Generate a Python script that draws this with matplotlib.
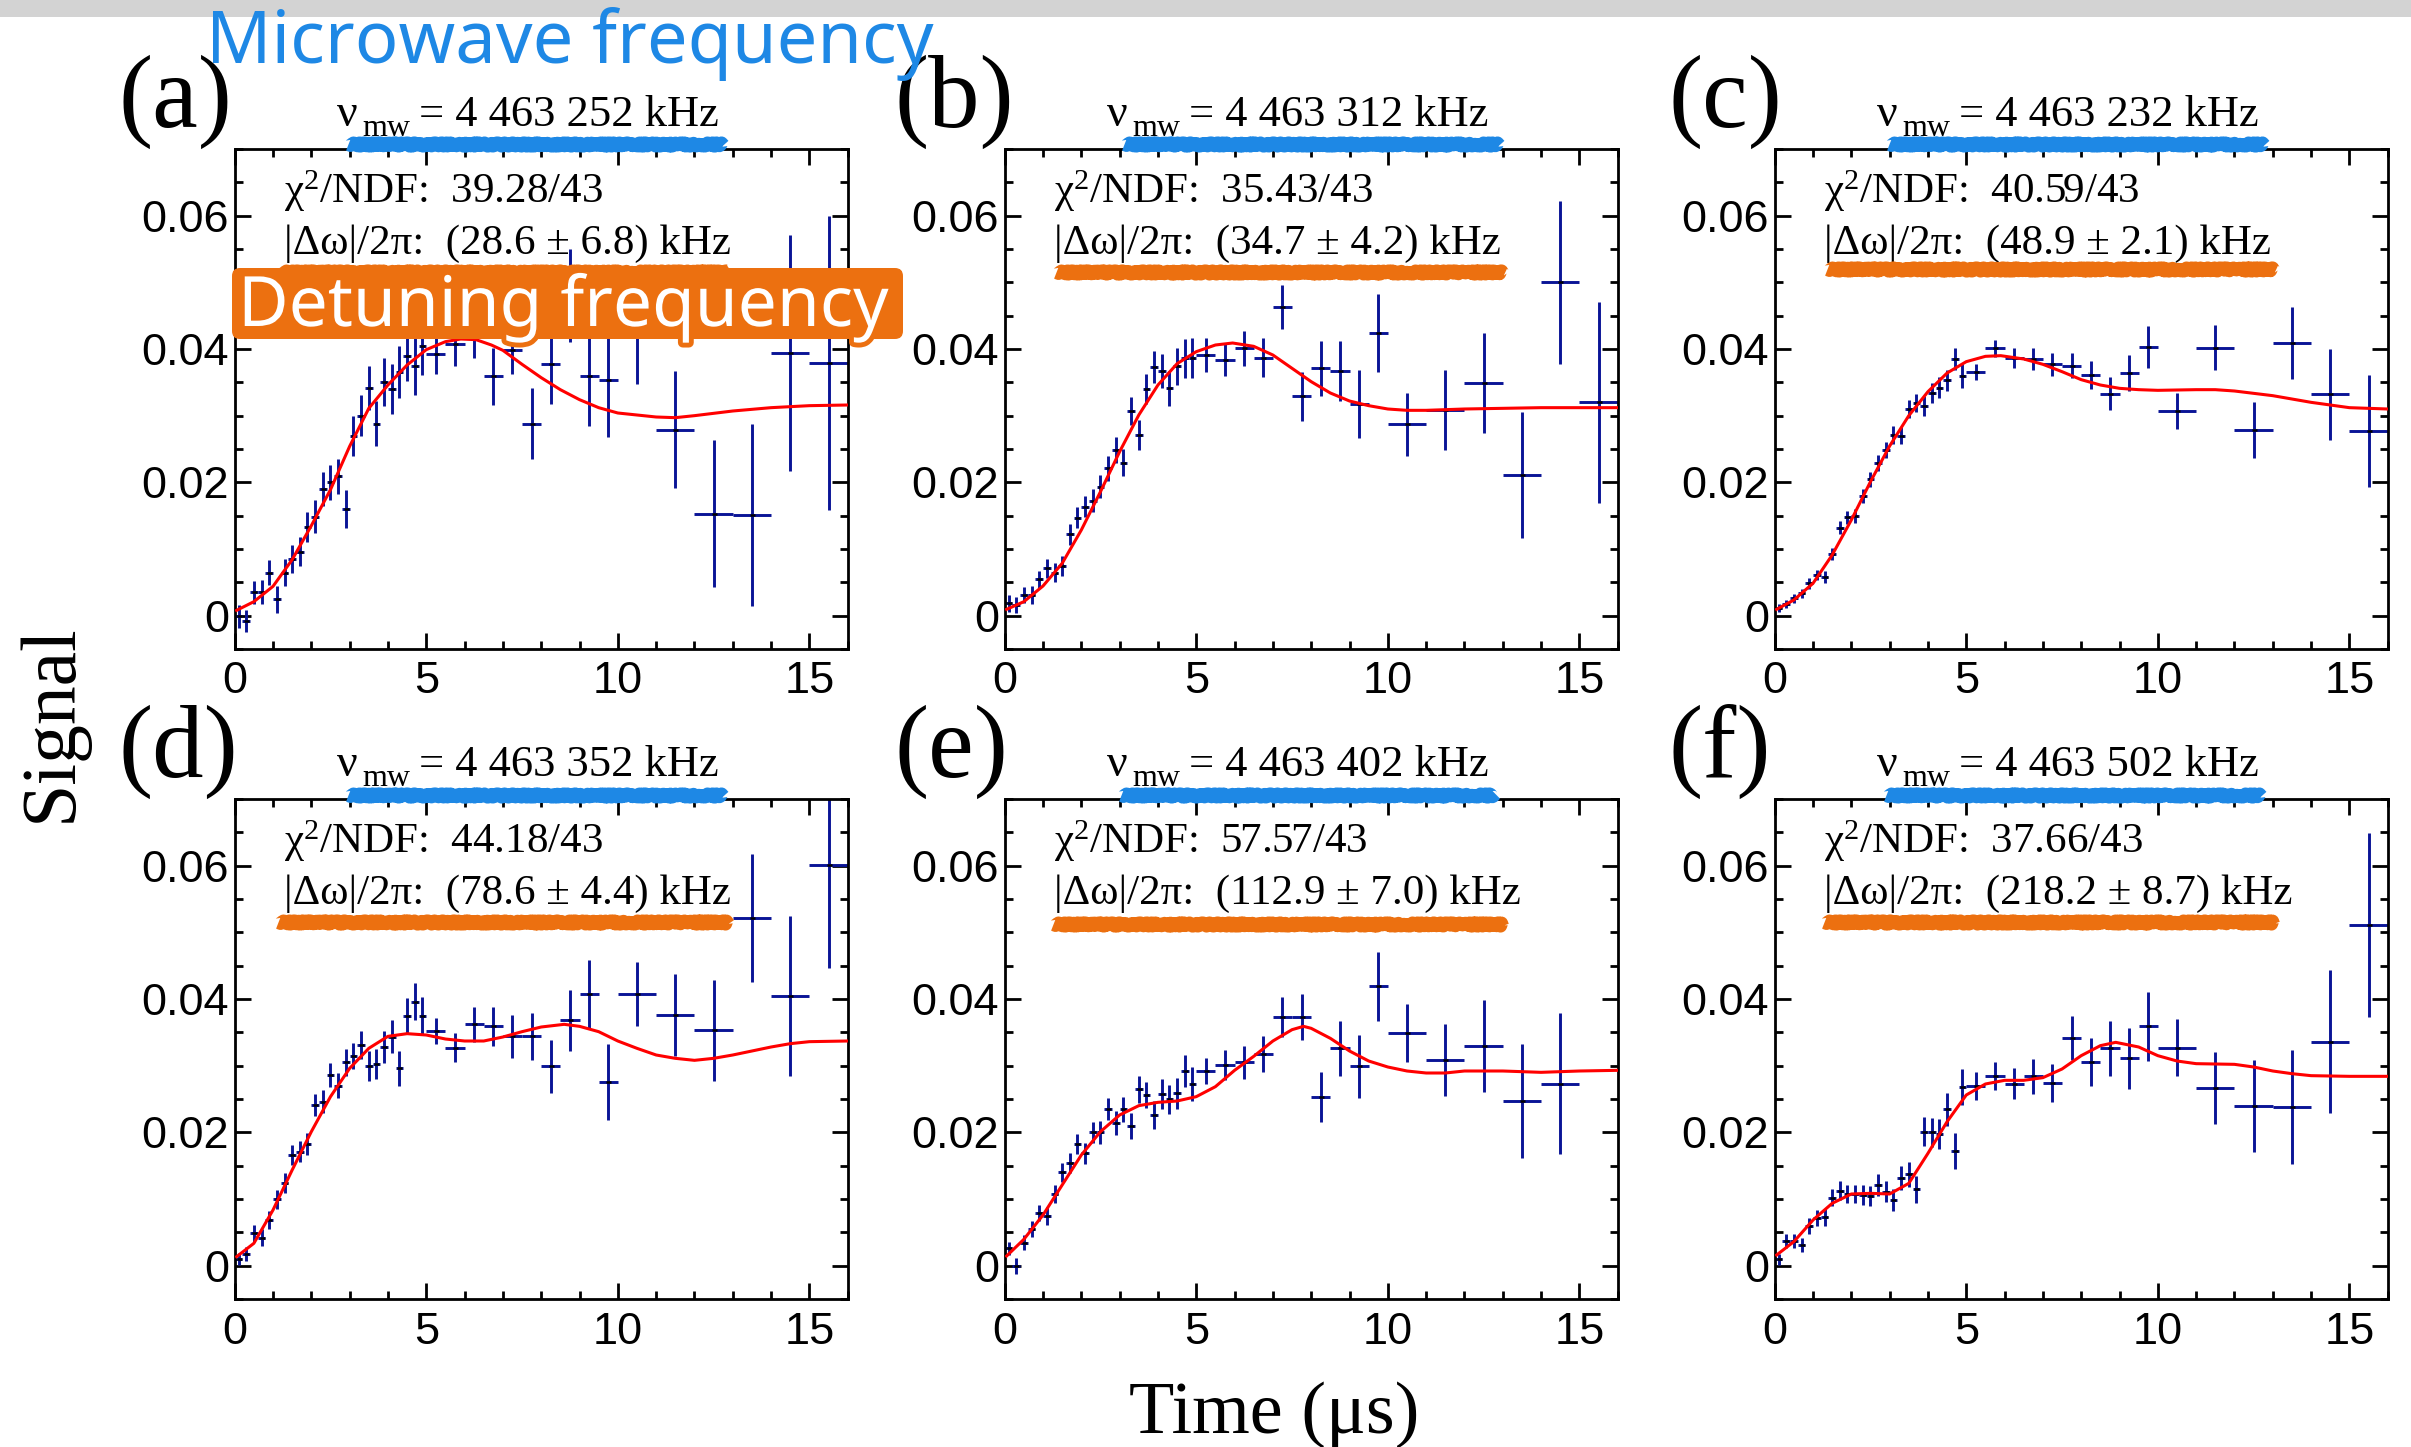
import numpy as np
import matplotlib
matplotlib.use('Agg')
import matplotlib.pyplot as plt
from matplotlib.ticker import FixedLocator, FixedFormatter, MultipleLocator
from matplotlib.patches import Rectangle, FancyBboxPatch
import matplotlib.patheffects as pe

nan = float('nan')

# ---------------- data ----------------
t_bins = [0.1, 0.3, 0.5, 0.7, 0.9, 1.1, 1.3, 1.5, 1.7, 1.9, 2.1, 2.3, 2.5, 2.7, 2.9,
          3.1, 3.3, 3.5, 3.7, 3.9, 4.1, 4.3, 4.5, 4.7, 4.9,
          5.25, 5.75, 6.25, 6.75, 7.25, 7.75, 8.25, 8.75, 9.25, 9.75,
          10.5, 11.5, 12.5, 13.5, 14.5, 15.5]
t_halfwidth = [0.1, 0.1, 0.1, 0.1, 0.1, 0.1, 0.1, 0.1, 0.1, 0.1, 0.1, 0.1, 0.1, 0.1, 0.1,
               0.1, 0.1, 0.1, 0.1, 0.1, 0.1, 0.1, 0.1, 0.1, 0.1,
               0.25, 0.25, 0.25, 0.25, 0.25, 0.25, 0.25, 0.25, 0.25, 0.25,
               0.5, 0.5, 0.5, 0.5, 0.5, 0.5]

panel_letters = ['(a)', '(b)', '(c)', '(d)', '(e)', '(f)']
mw_freq = ['4 463 252', '4 463 312', '4 463 232', '4 463 352', '4 463 402', '4 463 502']
chi2_ndf = ['39.28/43', '35.43/43', '40.59/43', '44.18/43', '57.57/43', '37.66/43']
detuning = ['(28.6 ± 6.8)', '(34.7 ± 4.2)', '(48.9 ± 2.1)', '(78.6 ± 4.4)', '(112.9 ± 7.0)', '(218.2 ± 8.7)']

signal_a = [-0.0001, -0.0008, 0.0035, 0.0035, 0.00645, 0.00245, 0.00645, 0.00845, 0.0096, 0.01335,
            0.01485, 0.0190, 0.0200, 0.0209, 0.0160, 0.0269, 0.0300, 0.0341, 0.0288, 0.0350,
            0.0340, 0.0365, 0.0390, 0.0375, 0.0405,
            0.0392, 0.0408, 0.0425, 0.0359, 0.0398, 0.0288, 0.0377, 0.0480, 0.0359, 0.0354,
            0.0418, 0.0279, 0.0153, 0.0151, 0.0394, 0.0379]
error_a = [0.00175, 0.00165, 0.00175, 0.0018, 0.0019, 0.0020, 0.0020, 0.0021, 0.0022, 0.00225,
           0.0025, 0.0025, 0.0026, 0.0026, 0.0029, 0.0030, 0.0031, 0.0033, 0.0034, 0.0036,
           0.0037, 0.0039, 0.0038, 0.0044, 0.0044,
           0.0030, 0.0033, 0.0038, 0.0043, 0.0036, 0.0053, 0.0060, 0.0070, 0.0074, 0.0086,
           0.0070, 0.0088, 0.0110, 0.0137, 0.0177, 0.0220]

signal_b = [0.00185, 0.0016, 0.0031, 0.0031, 0.00545, 0.0071, 0.00645, 0.00745, 0.0122, 0.0147,
            0.01635, 0.01725, 0.01935, 0.0221, 0.02485, 0.02295, 0.0307, 0.0271, 0.0340, 0.0373,
            0.0367, 0.0341, 0.0374, 0.0386, 0.0386,
            0.0391, 0.0384, 0.0401, 0.0387, 0.0463, 0.0329, 0.0371, 0.0367, 0.0317, 0.0424,
            0.0287, 0.0309, 0.0349, 0.0211, 0.0500, 0.0320]
error_b = [0.00125, 0.0012, 0.00125, 0.0013, 0.0013, 0.0014, 0.00145, 0.0015, 0.00155, 0.0016,
           0.0016, 0.00175, 0.00175, 0.00185, 0.00195, 0.0020, 0.0021, 0.0022, 0.0022, 0.0024,
           0.0025, 0.0026, 0.0028, 0.0029, 0.0030,
           0.0025, 0.0025, 0.0026, 0.0029, 0.0033, 0.0037, 0.0041, 0.0045, 0.0051, 0.0058,
           0.0047, 0.0060, 0.0075, 0.0094, 0.0122, 0.0151]

signal_c = [0.0012, 0.00175, 0.0026, 0.00335, 0.00485, 0.0061, 0.00575, 0.0092, 0.0132, 0.01475,
            0.01495, 0.01795, 0.02045, 0.02295, 0.02485, 0.0271, 0.0270, 0.0310, 0.0319, 0.0315,
            0.03345, 0.0342, 0.0353, 0.0385, 0.0360,
            0.0366, 0.0401, 0.0387, 0.0385, 0.0377, 0.0375, 0.0361, 0.0333, 0.0364, 0.0403,
            0.0307, 0.0402, 0.0278, 0.0409, 0.0332, 0.0277]
error_c = [0.0006, 0.0006, 0.0007, 0.0007, 0.0008, 0.0008, 0.0009, 0.0009, 0.0010, 0.0010,
           0.0010, 0.0011, 0.0011, 0.0012, 0.0012, 0.0013, 0.0013, 0.0014, 0.0014, 0.0015,
           0.0015, 0.0016, 0.0016, 0.0017, 0.0018,
           0.0012, 0.0013, 0.0015, 0.0016, 0.0017, 0.0019, 0.0021, 0.0025, 0.0027, 0.0032,
           0.0027, 0.0034, 0.0042, 0.0054, 0.0068, 0.0084]

signal_d = [0.00095, 0.00175, 0.00485, 0.0042, 0.00685, 0.00995, 0.01245, 0.0166, 0.0171, 0.01825,
            0.0241, 0.0246, 0.0286, 0.0270, 0.0305, 0.03145, 0.0331, 0.02995, 0.03025, 0.03275,
            0.03435, 0.0296, 0.03745, 0.0396, 0.03745,
            0.0352, 0.0327, 0.0362, 0.0359, 0.0344, 0.0344, 0.0299, 0.0368, 0.0408, 0.0276,
            0.0408, 0.0376, 0.0353, 0.0521, 0.0404, 0.0601]
error_d = [0.0009, 0.0010, 0.00125, 0.0013, 0.0014, 0.0014, 0.0015, 0.0015, 0.0016, 0.0016,
           0.0017, 0.0017, 0.0018, 0.0019, 0.0020, 0.0020, 0.0021, 0.0022, 0.0023, 0.0024,
           0.0025, 0.0026, 0.0027, 0.0028, 0.0028,
           0.0020, 0.0022, 0.0026, 0.0029, 0.0032, 0.0035, 0.0040, 0.0046, 0.0051, 0.0057,
           0.0048, 0.0061, 0.0076, 0.0096, 0.0120, 0.0155]

signal_e = [0.0026, 0.0000, 0.00345, 0.00545, 0.00795, 0.00745, 0.01075, 0.0140, 0.01545, 0.01825,
            0.01685, 0.0200, 0.0200, 0.0235, 0.02145, 0.02345, 0.02095, 0.02645, 0.0256, 0.0226,
            0.02575, 0.02495, 0.02585, 0.02925, 0.02725,
            0.0292, 0.0301, 0.0305, 0.0318, 0.0373, 0.0373, 0.0253, 0.0326, 0.0299, 0.0419,
            0.0349, 0.0308, 0.0330, 0.0247, 0.0273, nan]
error_e = [0.0010, 0.0012, 0.0011, 0.0012, 0.0012, 0.0013, 0.0013, 0.0014, 0.0015, 0.0015,
           0.0016, 0.0016, 0.0017, 0.0017, 0.0018, 0.0019, 0.0019, 0.0020, 0.0020, 0.0021,
           0.0022, 0.0022, 0.0023, 0.0024, 0.0025,
           0.0020, 0.0022, 0.0025, 0.0027, 0.0030, 0.0034, 0.0037, 0.0041, 0.0047, 0.0052,
           0.0044, 0.0054, 0.0069, 0.0085, 0.0106, nan]

signal_f = [0.00095, 0.0037, 0.0037, 0.0031, 0.00595, 0.0072, 0.00725, 0.0102, 0.01125, 0.01075,
            0.01075, 0.0106, 0.01045, 0.0121, 0.0111, 0.00985, 0.0131, 0.0137, 0.01145, 0.0201,
            0.0200, 0.01975, 0.02345, 0.0172, 0.02675,
            0.0270, 0.0285, 0.0273, 0.0284, 0.0274, 0.0341, 0.0305, 0.0326, 0.0311, 0.0359,
            0.0327, 0.0267, 0.0240, 0.0238, 0.0336, 0.0511]
error_f = [0.0008, 0.0010, 0.0011, 0.0011, 0.0012, 0.0012, 0.0013, 0.0013, 0.0014, 0.0014,
           0.0014, 0.0015, 0.0015, 0.0016, 0.0016, 0.0017, 0.0018, 0.0019, 0.0020, 0.0022,
           0.0022, 0.0023, 0.0025, 0.0027, 0.0027,
           0.0021, 0.0021, 0.0023, 0.0026, 0.0029, 0.0033, 0.0036, 0.0041, 0.0046, 0.0052,
           0.0043, 0.0054, 0.0069, 0.0085, 0.0107, 0.0138]

# fit curves
fit_t_a = [0.05, 0.5, 1.0, 1.5, 2.0, 2.5, 3.0, 3.5, 4.0, 4.5, 5.0, 5.5, 5.9, 6.3, 6.7, 7.0, 7.5,
           8.0, 8.5, 9.0, 9.5, 10.0, 11.0, 11.5, 12.0, 13.0, 14.0, 15.0, 16.0]
fit_y_a = [0.0008, 0.0021, 0.0044, 0.0084, 0.0135, 0.0189, 0.0254, 0.0311, 0.0346, 0.0376, 0.0399,
           0.0411, 0.0415, 0.0414, 0.0406, 0.0398, 0.0377, 0.0357, 0.0339, 0.0324, 0.0312, 0.0304,
           0.0298, 0.0297, 0.0300, 0.0307, 0.0312, 0.0315, 0.0316]

fit_t_b = [0.05, 0.5, 1.0, 1.5, 2.0, 2.5, 3.0, 3.5, 4.0, 4.5, 5.0, 5.5, 5.95, 6.5, 7.0, 7.5, 8.0,
           8.5, 9.0, 9.5, 10.0, 10.5, 11.0, 12.0, 13.0, 14.0, 16.0]
fit_y_b = [0.00095, 0.0021, 0.00445, 0.00785, 0.01285, 0.0186, 0.0246, 0.0301, 0.0346, 0.0378,
           0.0396, 0.0406, 0.0409, 0.0404, 0.0391, 0.0371, 0.0351, 0.0334, 0.0322, 0.0315, 0.0310,
           0.0308, 0.0308, 0.0310, 0.0311, 0.0312, 0.0312]

fit_t_c = [0.05, 0.5, 1.0, 1.5, 2.0, 2.5, 3.0, 3.5, 4.0, 4.5, 5.0, 5.5, 5.9, 6.5, 7.0, 7.5, 8.0,
           8.5, 9.0, 9.5, 10.0, 11.0, 11.5, 12.0, 13.0, 14.0, 15.0, 16.0]
fit_y_c = [0.00095, 0.00235, 0.00485, 0.0091, 0.01435, 0.0201, 0.02545, 0.0300, 0.0336, 0.0364,
           0.0381, 0.0389, 0.0390, 0.0385, 0.0377, 0.0366, 0.0354, 0.0346, 0.0341, 0.0339, 0.0338,
           0.0339, 0.0339, 0.0337, 0.0330, 0.0320, 0.0312, 0.0310]

fit_t_d = [0.05, 0.5, 1.0, 1.5, 2.0, 2.5, 3.0, 3.5, 4.0, 4.5, 5.0, 5.5, 6.0, 6.5, 7.0, 7.5, 8.0,
           8.6, 9.0, 9.5, 10.0, 10.5, 11.0, 11.5, 12.0, 12.5, 13.0, 13.5, 14.0, 14.5, 15.0, 16.0]
fit_y_d = [0.00135, 0.00335, 0.00835, 0.01435, 0.0201, 0.02535, 0.0296, 0.0326, 0.0344, 0.0348,
           0.0346, 0.0340, 0.0337, 0.0337, 0.0343, 0.0351, 0.0358, 0.0362, 0.0359, 0.0351, 0.0337,
           0.0326, 0.0316, 0.0311, 0.0308, 0.0311, 0.0316, 0.0322, 0.0328, 0.0333, 0.0336, 0.0337]

fit_t_e = [0.05, 0.5, 1.0, 1.5, 2.0, 2.5, 3.0, 3.5, 4.0, 4.5, 5.0, 5.5, 6.0, 6.5, 7.0, 7.5, 7.8,
           8.0, 8.5, 9.0, 9.5, 10.0, 10.5, 11.0, 11.5, 12.0, 13.0, 14.0, 15.0, 16.0]
fit_y_e = [0.00145, 0.00395, 0.0076, 0.0121, 0.0166, 0.0201, 0.0226, 0.0240, 0.0245, 0.0247,
           0.02535, 0.02685, 0.0293, 0.0314, 0.0337, 0.0354, 0.0359, 0.0356, 0.0341, 0.0322, 0.0307,
           0.0298, 0.0292, 0.0289, 0.0289, 0.0292, 0.0292, 0.0290, 0.0292, 0.0293]

fit_t_f = [0.05, 0.5, 1.0, 1.5, 2.0, 2.5, 3.0, 3.5, 4.0, 4.5, 5.0, 5.5, 6.0, 6.5, 7.0, 7.5, 8.0,
           8.5, 8.9, 9.5, 10.0, 10.5, 11.0, 12.0, 12.5, 13.0, 13.5, 14.0, 15.0, 16.0]
fit_y_f = [0.0016, 0.0036, 0.00685, 0.00935, 0.01075, 0.01085, 0.01075, 0.01235, 0.01685, 0.0216,
           0.0256, 0.02725, 0.0278, 0.0278, 0.0282, 0.0295, 0.0315, 0.0330, 0.0335, 0.0328, 0.0315,
           0.0307, 0.0303, 0.0302, 0.0298, 0.0292, 0.0288, 0.0285, 0.0284, 0.0284]

x_major = [0, 5, 10, 15]
x_major_labels = ['0', '5', '10', '15']
y_major = [0.0, 0.02, 0.04, 0.06]
y_major_labels = ['0', '0.02', '0.04', '0.06']

signals = [signal_a, signal_b, signal_c, signal_d, signal_e, signal_f]
errors = [error_a, error_b, error_c, error_d, error_e, error_f]
fits = [(fit_t_a, fit_y_a), (fit_t_b, fit_y_b), (fit_t_c, fit_y_c),
        (fit_t_d, fit_y_d), (fit_t_e, fit_y_e), (fit_t_f, fit_y_f)]

# ---------------- style ----------------
plt.rcParams['font.family'] = ['Liberation Sans', 'DejaVu Sans']
plt.rcParams['mathtext.fontset'] = 'custom'
plt.rcParams['mathtext.rm'] = 'Liberation Serif'
plt.rcParams['mathtext.it'] = 'Liberation Serif:italic'
plt.rcParams['mathtext.bf'] = 'Liberation Serif:bold'

SERIF = ['Liberation Serif', 'DejaVu Serif']
NAVY = '#0a1496'
BLUE = '#1E88E5'
ORANGE = '#EC7010'

W, H = 2411, 1447
fig = plt.figure(figsize=(W / 100, H / 100), dpi=100)

col_left = [234.7, 1004.7, 1774.7]
row_top = [149, 799]
AW, AH = 613, 500

label_x = [-0.189, -0.179, -0.173]
blue_ul = [(0.185, 0.797), (0.195, 0.807), (0.186, 0.798),
           (0.185, 0.797), (0.190, 0.800), (0.182, 0.793)]
blue_y = [1.010, 1.008]
orange_ul = [(0.0755, 0.803, 0.754), (0.084, 0.814, 0.753), (0.0855, 0.816, 0.759),
             (0.070, 0.804, 0.754), (0.079, 0.811, 0.750), (0.080, 0.813, 0.754)]

for i in range(6):
    r, c = divmod(i, 3)
    ax = fig.add_axes([col_left[c] / W, 1 - (row_top[r] + AH) / H, AW / W, AH / H])
    ax.errorbar(t_bins, signals[i], yerr=errors[i], xerr=t_halfwidth, fmt='none',
                ecolor=NAVY, elinewidth=2.1, capsize=0, zorder=2)
    ax.plot(t_bins, signals[i], ls='none', marker='_', ms=3.6, mew=1.8,
            color='black', zorder=3)
    ax.plot(fits[i][0], fits[i][1], color='#ff0000', lw=2.2, zorder=4)

    ax.set_xlim(0, 16)
    ax.set_ylim(-0.005, 0.07)
    ax.xaxis.set_major_locator(FixedLocator(x_major))
    ax.xaxis.set_major_formatter(FixedFormatter(x_major_labels))
    ax.xaxis.set_minor_locator(MultipleLocator(1))
    ax.yaxis.set_major_locator(FixedLocator(y_major))
    ax.yaxis.set_major_formatter(FixedFormatter(y_major_labels))
    ax.yaxis.set_minor_locator(MultipleLocator(0.005))
    for sp in ax.spines.values():
        sp.set_linewidth(2.0)
    ax.tick_params(which='both', direction='in', top=True, right=True, width=2.0)
    ax.tick_params(which='major', length=11.5, labelsize=32.5)
    ax.tick_params(which='minor', length=6)
    ax.tick_params(axis='x', which='major', pad=9)
    ax.tick_params(axis='y', which='major', pad=4)

    # title: nu with lowered "mw" subscript, then the value
    ax.text(0.167, 1.045, 'ν', transform=ax.transAxes,
            ha='left', va='baseline', fontsize=33, family=SERIF)
    ax.text(0.208, 1.026, 'mw', transform=ax.transAxes,
            ha='left', va='baseline', fontsize=23, family=SERIF)
    ax.text(0.301, 1.045, '= ' + mw_freq[i] + ' kHz', transform=ax.transAxes,
            ha='left', va='baseline', fontsize=32, family=SERIF)

    ax.text(0.081, 0.891, 'χ$^{2}$/NDF:  ' + chi2_ndf[i], transform=ax.transAxes,
            ha='left', va='baseline', fontsize=31, family=SERIF)
    ax.text(0.081, 0.790, '|Δω|/2π:  ' + detuning[i] + ' kHz', transform=ax.transAxes,
            ha='left', va='baseline', fontsize=31, family=SERIF)
    ax.text(label_x[c], 1.045, panel_letters[i], transform=ax.transAxes,
            ha='left', va='baseline', fontsize=74, family=SERIF)

    bx0, bx1 = blue_ul[i]
    ln, = ax.plot([bx0, bx1], [blue_y[r], blue_y[r]], transform=ax.transAxes, clip_on=False,
                  color=BLUE, lw=9.5, solid_capstyle='butt', zorder=5)
    ln.set_sketch_params(scale=1.5, length=6, randomness=4)
    ox0, ox1, oy = orange_ul[i]
    ln, = ax.plot([ox0, ox1], [oy, oy], transform=ax.transAxes, clip_on=False,
                  color=ORANGE, lw=9.5, solid_capstyle='butt', zorder=5)
    ln.set_sketch_params(scale=1.5, length=6, randomness=4)

fig.text(52 / W, 1 - 723 / H, 'Signal', rotation=90, ha='center', va='center',
         fontsize=56, family=SERIF)
fig.text(1274 / W, 1 - 1433 / H, 'Time (μs)', ha='center', va='baseline',
         fontsize=53.5, family=SERIF)

# top grey band
fig.add_artist(Rectangle((0, 1 - 17 / H), 1, 17 / H, transform=fig.transFigure,
                         facecolor='#d3d3d3', edgecolor='none', zorder=1))

fig.text(206 / W, 1 - 62.6 / H, 'Microwave frequency', color=BLUE, fontsize=52,
         family=['Noto Sans', 'DejaVu Sans'], ha='left', va='baseline', zorder=6)

fig.add_artist(FancyBboxPatch((2.32, (H - 339) / 100), 6.71, 0.71,
                              boxstyle='round,pad=0,rounding_size=0.08',
                              transform=fig.dpi_scale_trans, facecolor=ORANGE,
                              edgecolor='none', zorder=5))
fig.text(238 / W, 1 - 326 / H, 'Detuning frequency', color='white', fontsize=50,
         family=['Noto Sans', 'DejaVu Sans'], ha='left', va='baseline', zorder=6,
         path_effects=[pe.withStroke(linewidth=7, foreground=ORANGE)])

fig.savefig('out.png', dpi=100)
